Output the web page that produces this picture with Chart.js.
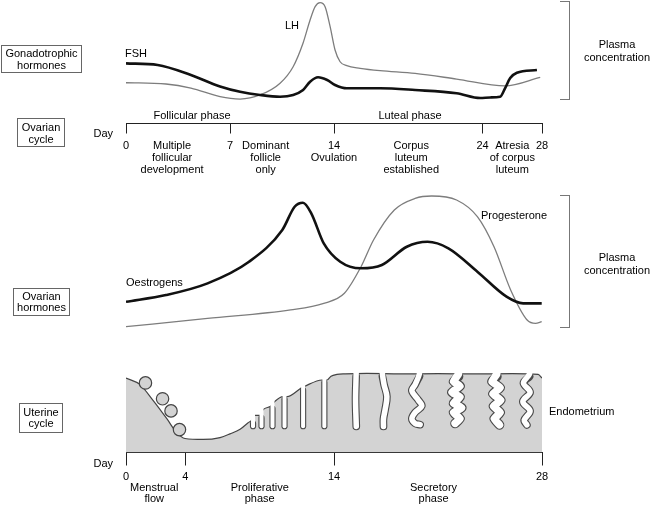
<!DOCTYPE html>
<html>
<head>
<meta charset="utf-8">
<script src="https://cdn.jsdelivr.net/npm/chart.js@4.4.1/dist/chart.umd.min.js"></script>
<style>
  html, body { margin: 0; padding: 0; background: #fff; }
  #page { position: relative; width: 650px; height: 505px; overflow: hidden;
          font-family: "Liberation Sans", Arial, sans-serif; font-size: 11px; color: #000; }
  .panel { position: absolute; left: 0; width: 650px; }
  .panel canvas { display: block; }
  .lbl { position: absolute; white-space: nowrap; line-height: 12px; }
  .c { transform: translate(-50%, -50%); text-align: center; }
  .l { transform: translateY(-50%); }
  .box { position: absolute; border: 1px solid #666; box-sizing: border-box; display: flex;
         align-items: center; justify-content: center; text-align: center; line-height: 12px; }
  .bracket { position: absolute; border: 1.5px solid #777; border-left: none; box-sizing: border-box; }
</style>
</head>
<body>
<div id="page">
  <div class="panel" style="top:0;height:178px"><canvas id="gonad" width="650" height="178"></canvas></div>
  <div class="panel" style="top:180px;height:160px"><canvas id="ovarian" width="650" height="160"></canvas></div>
  <div class="panel" style="top:340px;height:165px"><canvas id="uterine" width="650" height="165"></canvas></div>

  <div class="box" style="left:1px;top:45px;width:81px;height:28px">Gonadotrophic<br>hormones</div>
  <div class="box" style="left:17px;top:118px;width:48px;height:29px">Ovarian<br>cycle</div>
  <div class="box" style="left:13px;top:288px;width:57px;height:28px;line-height:11px">Ovarian<br>hormones</div>
  <div class="box" style="left:19px;top:403px;width:44px;height:30px;line-height:11px">Uterine<br>cycle</div>

  <div class="bracket" style="left:560px;top:0.5px;width:10px;height:99px"></div>
  <div class="bracket" style="left:560px;top:195px;width:10px;height:133px"></div>
  <div class="lbl c" style="left:617px;top:50.5px;line-height:13px">Plasma<br>concentration</div>
  <div class="lbl c" style="left:617px;top:263.5px;line-height:13px">Plasma<br>concentration</div>

  <div class="lbl l" style="left:125px;top:53px">FSH</div>
  <div class="lbl l" style="left:285px;top:25px">LH</div>
  <div class="lbl c" style="left:192px;top:115px">Follicular phase</div>
  <div class="lbl c" style="left:410px;top:115px">Luteal phase</div>
  <div class="lbl l" style="right:537px;top:133px">Day</div>

  <div class="lbl l" style="left:126px;top:282px">Oestrogens</div>
  <div class="lbl l" style="left:481px;top:215px">Progesterone</div>

  <div class="lbl l" style="left:549px;top:411px">Endometrium</div>
  <div class="lbl l" style="right:537px;top:463px">Day</div>
</div>

<script>
// ---- gonadotrophic hormones (day, relative level 0-100) ----
const lhDays   = [0, 2.69, 4.37, 6.33, 7.68, 9.02, 10.37, 11.25, 11.92, 12.39, 12.73, 13.06, 13.4, 13.74, 14.07, 14.41, 14.86, 15.76, 17.1, 19.46, 22.25, 25.52, 27.88];
const lhLevels = [33.0, 32.0, 28.7, 21.7, 19.8, 23.1, 32.6, 46.0, 65.2, 83.8, 94.6, 97.8, 94.6, 78.4, 59.5, 50.0, 46.8, 44.7, 42.8, 40.6, 36.0, 30.4, 37.4];
const fshDays   = [0, 2.13, 4.37, 6.33, 7.68, 9.02, 10.37, 11.25, 11.92, 12.39, 12.93, 13.54, 14.07, 14.86, 17.1, 19.46, 22.25, 23.84, 24.51, 25.18, 25.52, 25.86, 26.31, 27.66];
const fshLevels = [48.7, 47.4, 39.3, 30.0, 25.7, 23.1, 21.7, 23.1, 27.1, 33.8, 37.4, 35.2, 31.2, 28.5, 28.5, 27.1, 24.5, 20.6, 21.1, 21.7, 28.7, 36.8, 41.1, 43.3];

// ---- ovarian hormones ----
const oestDays   = [0, 2.69, 5.49, 8.28, 10.52, 11.35, 11.91, 12.47, 13.31, 14.42, 15.82, 17.22, 18.9, 20.3, 21.7, 23.65, 25.61, 26.73, 27.98];
const oestLevels = [23.9, 28.1, 35.4, 48.9, 68.8, 83.3, 85.8, 79.2, 60.4, 48.9, 44.8, 46.9, 58.3, 61.4, 57.3, 42.7, 27.1, 22.9, 22.9];
const progDays   = [0, 5.49, 11.08, 13.31, 14.7, 15.82, 16.66, 18.06, 19.46, 20.57, 22.25, 23.65, 24.77, 25.89, 27.0, 27.56, 27.98];
const progLevels = [8.3, 13.5, 18.8, 22.9, 29.2, 45.8, 62.5, 81.3, 88.5, 90.0, 87.5, 77.1, 58.3, 31.3, 12.5, 10.4, 11.5];

// ---- uterine cycle: endometrium surface, shed fragments, glands ----
const endoDays   = [0, 0.94, 1.82, 2.76, 3.43, 3.97, 5.19, 6.33, 7.0, 7.68, 8.22, 8.42, 8.69, 9.02, 9.23, 9.76, 10.03, 10.57, 10.84, 11.85, 11.99, 13.2, 13.54, 13.8, 14.2, 14.75, 16.2, 18.5, 21, 23.5, 26, 27.74, 28];
const endoLevels = [70.8, 64.6, 49.6, 31.9, 18.6, 13.3, 12.4, 14.2, 17.7, 22.1, 28.3, 30.1, 35.4, 35.4, 40.7, 44.2, 48.7, 53.1, 53.1, 61.9, 62.8, 69.0, 69.0, 72.6, 74.3, 74.8, 75.2, 74.8, 75.0, 74.8, 75.0, 74.3, 70.8];
const fragmentDays   = [1.31, 2.46, 3.03, 3.6];
const fragmentLevels = [66.2, 51.1, 39.6, 21.8];
const glandDays = [
  [8.55, 8.55], [9.12, 9.12], [9.86, 9.86], [10.67, 10.67], [11.92, 11.92], [13.35, 13.35],
  [15.49, 15.45, 15.5],
  [17.26, 17.37, 17.56, 17.44, 17.33, 17.33],
  [19.75, 19.46, 19.24, 19.68, 19.91, 19.46, 19.24, 19.46, 19.8],
  [22.38, 22.04, 22.49, 21.93, 22.49, 22.04, 22.6, 22.04, 22.49, 22.15],
  [24.96, 24.63, 25.19, 24.69, 25.23, 24.73, 25.19, 24.78, 25.14],
  [27.16, 26.75, 27.2, 26.71, 27.2, 26.8, 26.98]
];
const glandLevels = [
  [30.1, 25], [35.4, 25], [44.2, 25], [53.1, 25], [61.9, 25], [69.0, 25],
  [74.8, 50, 24.8],
  [74.8, 64.6, 53.1, 40.7, 31.9, 24.8],
  [74.8, 64.6, 58.7, 49.8, 44.2, 38.1, 32.1, 27.7, 26.5],
  [74.8, 67.5, 63.1, 57.3, 52.8, 46.9, 42.5, 38.1, 32.1, 27.7],
  [74.8, 67.5, 61.7, 55.8, 49.8, 44.0, 38.1, 32.1, 26.3],
  [74.8, 66.1, 57.3, 48.4, 39.5, 30.7, 26.3]
];

// ---- day axes ----
const ovarianTicks  = [0, 3.1, 7, 9.4, 14, 19.2, 24, 26.0, 28];
const ovarianLabels = ['0', ['Multiple', 'follicular', 'development'], '7', ['Dominant', 'follicle', 'only'],
                       ['14', 'Ovulation'], ['Corpus', 'luteum', 'established'], '24', ['Atresia', 'of corpus', 'luteum'], '28'];
const ovarianDays   = [0, 7, 14, 24, 28];
const uterineTicks  = [0, 1.9, 4, 9.0, 14, 20.7, 28];
const uterineLabels = ['0', ['', 'Menstrual', 'flow'], '4', ['', 'Proliferative', 'phase'], '14', ['', 'Secretory', 'phase'], '28'];
const uterineDays   = [0, 4, 14, 28];

const FONT = '"Liberation Sans", Arial, sans-serif';
const GREY_FILL = '#d3d3d3';
const pts = (xs, ys) => xs.map((x, i) => ({ x: x, y: ys[i] }));

function dayAxis(values, labels, numbered, tickLen, pad, lineH, height) {
  return {
    type: 'linear', min: 0, max: 28,
    afterBuildTicks: s => { s.ticks = values.map(v => ({ value: v })); },
    afterFit: s => { s.height = height; },
    grid: {
      drawOnChartArea: false, drawTicks: true, tickLength: tickLen, tickWidth: 1,
      tickColor: c => (c.tick && numbered.includes(c.tick.value)) ? '#222' : 'rgba(0,0,0,0)'
    },
    border: { display: true, color: '#222', width: 1 },
    ticks: {
      autoSkip: false, maxRotation: 0, minRotation: 0, padding: pad, color: '#000',
      font: { family: FONT, size: 11, lineHeight: lineH / 11 },
      callback: (v, i) => labels[i]
    }
  };
}

function baseOptions(xScale) {
  return {
    responsive: false, animation: false, events: [],
    layout: { padding: { left: 126, right: 108, top: 0, bottom: 0 } },
    elements: { point: { radius: 0 }, line: { fill: false } },
    plugins: { legend: { display: false }, tooltip: { enabled: false } },
    scales: { x: xScale, y: { display: false, min: 0, max: 100 } }
  };
}

new Chart(document.getElementById('gonad'), {
  type: 'line',
  data: { datasets: [
    { data: pts(fshDays, fshLevels), borderColor: '#111', borderWidth: 2.6, cubicInterpolationMode: 'monotone' },
    { data: pts(lhDays, lhLevels), borderColor: '#7d7d7d', borderWidth: 1.3, cubicInterpolationMode: 'monotone' }
  ]},
  options: baseOptions(dayAxis(ovarianTicks, ovarianLabels, ovarianDays, 10, 6, 12, 54.5))
});

new Chart(document.getElementById('ovarian'), {
  type: 'line',
  data: { datasets: [
    { data: pts(oestDays, oestLevels), borderColor: '#111', borderWidth: 2.6, cubicInterpolationMode: 'monotone' },
    { data: pts(progDays, progLevels), borderColor: '#7d7d7d', borderWidth: 1.3, cubicInterpolationMode: 'monotone' }
  ]},
  options: baseOptions({ type: 'linear', display: false, min: 0, max: 28 })
});

// glands: dark outline line under a narrower white line
const glandSets = [];
glandDays.forEach((ds, i) => {
  const lv = glandLevels[i];
  const sawtooth = (i === 9 || i === 10);
  const w = i < 6 ? 4 : (sawtooth ? 7.5 : 5.5);
  const tension = sawtooth ? 0.1 : 0.35;
  const dark = pts(ds, lv);
  dark[0] = { x: ds[0], y: lv[0] - 2.5 };
  const white = [{ x: ds[0], y: lv[0] + 6 }].concat(pts(ds, lv));
  glandSets.push({ data: white, borderColor: '#fff', borderWidth: w, tension: tension,
                   borderCapStyle: 'round', borderJoinStyle: 'round', order: 0 });
  glandSets.push({ data: dark, borderColor: '#4a4a4a', borderWidth: w + 2.2, tension: tension,
                   borderCapStyle: 'round', borderJoinStyle: 'round', order: 1 });
});

new Chart(document.getElementById('uterine'), {
  type: 'line',
  data: { datasets: glandSets.concat([
    { data: pts(fragmentDays, fragmentLevels), showLine: false, pointRadius: 6.2,
      pointBackgroundColor: GREY_FILL, pointBorderColor: '#444', pointBorderWidth: 1.2, order: 2 },
    { data: pts(endoDays, endoLevels), borderColor: '#444', borderWidth: 1.2, backgroundColor: GREY_FILL,
      fill: 'origin', cubicInterpolationMode: 'monotone', order: 3 }
  ])},
  options: baseOptions(dayAxis(uterineTicks, uterineLabels, uterineDays, 13, 6, 11, 52.5))
});
</script>
</body>
</html>
